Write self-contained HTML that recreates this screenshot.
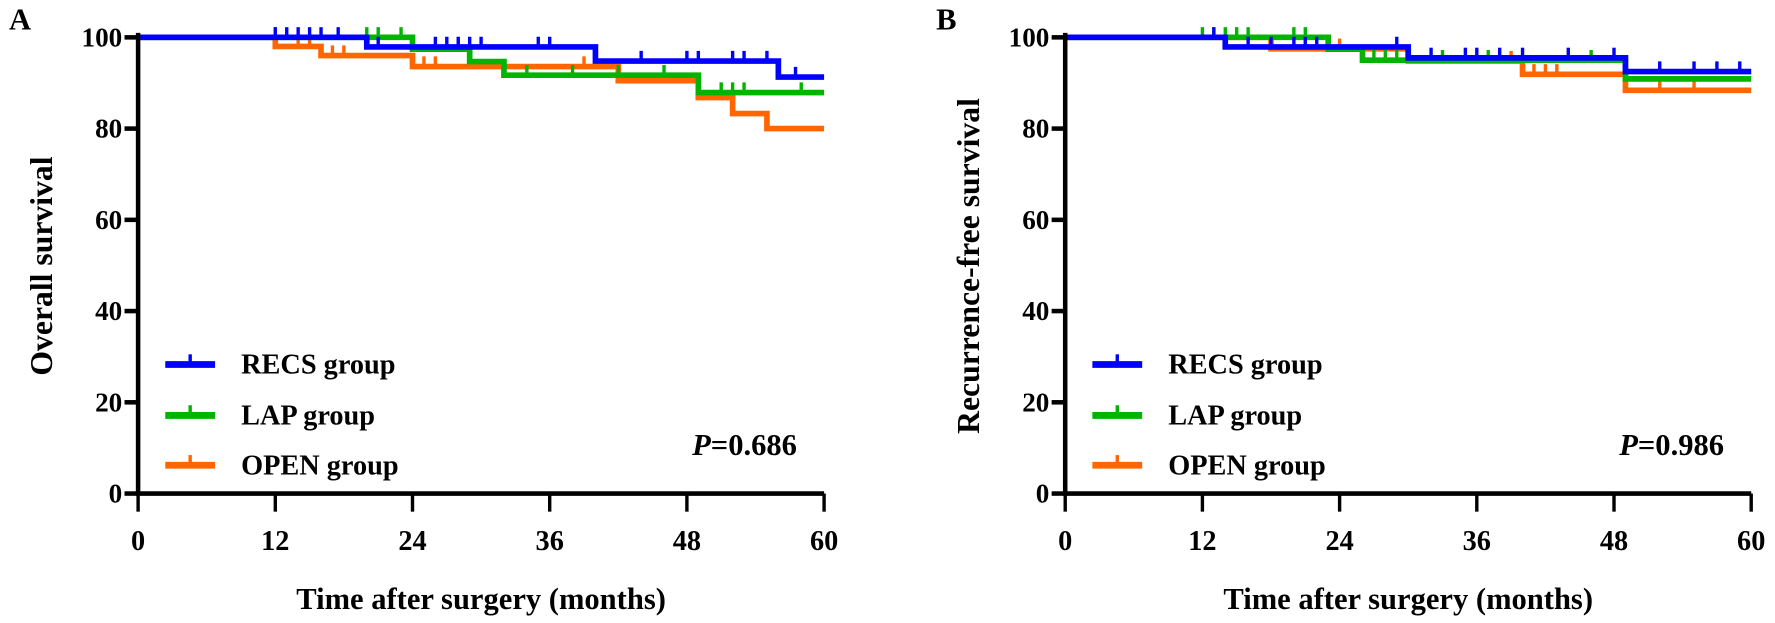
<!DOCTYPE html>
<html><head><meta charset="utf-8"><style>
body{margin:0;background:#fff}
svg text{font-family:"Liberation Serif",serif;font-weight:bold;fill:#000}
</style></head><body>
<svg width="1775" height="618" xmlns="http://www.w3.org/2000/svg"><g id="c" transform="scale(1.132)"></g></svg>
<script>
const xTicks=[0,12,24,36,48,60];
const yTicks=[0,20,40,60,80,100];
const seriesNames=["RECS group","LAP group","OPEN group"];
const seriesColors=["#0000ff","#00b400","#ff6600"];
// Panel A steps [time, survival]
const aRecs=[[0,100],[20,97.9],[40,94.8],[56,91.3]];
const aRecsCens=[12,13,14,15,16,17.5,21,26,27,28,29,30,35,36,44,48,49,52,53,55,57.5];
const aLap=[[0,100],[24,97.4],[29,94.7],[32,91.7],[49,87.9]];
const aLapCens=[12,20,21,23,28,34,38,42,46,51,52,53,58];
const aOpen=[[0,100],[12,98],[16,96],[24,93.6],[42,90.5],[49,86.8],[52,83.3],[55,80]];
const aOpenCens=[14,15,17,18,25,26,39];
// Panel B
const bRecs=[[0,100],[14,97.9],[30,95.5],[49,92.5]];
const bRecsCens=[13,16,18,20,21,22,29,32,35,36,38,40,44,48,52,55,57,59];
const bLap=[[0,100],[23,97.4],[26,95],[49,90.9]];
const bLapCens=[12,13,14,15,16,20,21,23,27,28,29,33,37,46];
const bOpen=[[0,100],[18,97.5],[30,94.8],[40,91.9],[49,88.4]];
const bOpenCens=[21,24,39,41,42,43,52,55];
const pValues=["0.686","0.986"];
const yTitles=["Overall survival","Recurrence-free survival"];
const panelLetters=["A","B"];

const svg=document.getElementById('c');
const NS="http://www.w3.org/2000/svg";
function mk(tag,attrs,parent){const e=document.createElementNS(NS,tag);for(const k in attrs)e.setAttribute(k,attrs[k]);(parent||svg).appendChild(e);return e;}

const panels=[
 {x0:122,name:"a",series:[[aRecs,aRecsCens],[aLap,aLapCens],[aOpen,aOpenCens]]},
 {x0:941,name:"b",series:[[bRecs,bRecsCens],[bLap,bLapCens],[bOpen,bOpenCens]]}
];
const W=606,Y0=436,Y100=33;
panels.forEach((p,pi)=>{
  const g=mk('g',{});
  
  
  const sx=t=>p.x0+t/60*W, sy=v=>Y0-(v/100)*(Y0-Y100);
  const L=mk('text',{x:p.x0-114,y:26,'font-size':27},g);L.textContent=panelLetters[pi];
  
  const yt=mk('text',{x:0,y:0,'font-size':28,'text-anchor':'middle',transform:`translate(${p.x0-76},235) rotate(-90)`},g);
  yt.textContent=yTitles[pi];
  
  const xt=mk('text',{x:p.x0+W/2,y:538,'font-size':27,'text-anchor':'middle'},g);
  xt.textContent="Time after surgery (months)";
  
  for(let si=2;si>=0;si--){
    const [steps,cens]=p.series[si];
    let d=`M${sx(steps[0][0])},${sy(steps[0][1])}`;
    for(let i=1;i<steps.length;i++){d+=`H${sx(steps[i][0])}V${sy(steps[i][1])}`;}
    d+=`H${sx(60)}`;
    const path=mk('path',{d:d,fill:'none',stroke:seriesColors[si],'stroke-width':5},g);
    
    
    cens.forEach(t=>{
      let v=steps[0][1];steps.forEach(s=>{if(s[0]<=t)v=s[1];});
      const c=mk('line',{x1:sx(t),x2:sx(t),y1:sy(v),y2:sy(v)-9,stroke:seriesColors[si],'stroke-width':3},g);
      
      
    });
  }
  const ax=mk('path',{d:`M${p.x0},${Y100-4}V${Y0}H${p.x0+W}`,fill:'none',stroke:'#000','stroke-width':4},g);
  
  xTicks.forEach(t=>{
    const l=mk('line',{x1:sx(t),x2:sx(t),y1:Y0,y2:Y0+16,stroke:'#000','stroke-width':3},g);
    
    const tx=mk('text',{x:sx(t),y:486,'font-size':25,'text-anchor':'middle'},g);tx.textContent=t;
    
  });
  yTicks.forEach(v=>{
    const l=mk('line',{x1:p.x0-12,x2:p.x0,y1:sy(v),y2:sy(v),stroke:'#000','stroke-width':4},g);
    
    const tx=mk('text',{x:p.x0-14,y:sy(v)+8,'font-size':24,'text-anchor':'end'},g);tx.textContent=v;
    
  });
  [322,367,411].forEach((ly,si)=>{
    const lg=mk('g',{},g);
    
    mk('line',{x1:p.x0+24,x2:p.x0+68,y1:ly,y2:ly,stroke:seriesColors[si],'stroke-width':6},lg);
    mk('line',{x1:p.x0+46,x2:p.x0+46,y1:ly,y2:ly-9,stroke:seriesColors[si],'stroke-width':3},lg);
    const tx=mk('text',{x:p.x0+91,y:ly+8,'font-size':25},lg);tx.textContent=seriesNames[si];
  });
  const pt=mk('text',{x:p.x0+582,y:402,'font-size':27,'text-anchor':'end'},g);
  pt.innerHTML='<tspan font-style="italic">P</tspan>='+pValues[pi];
  
});
</script>
</body></html>
